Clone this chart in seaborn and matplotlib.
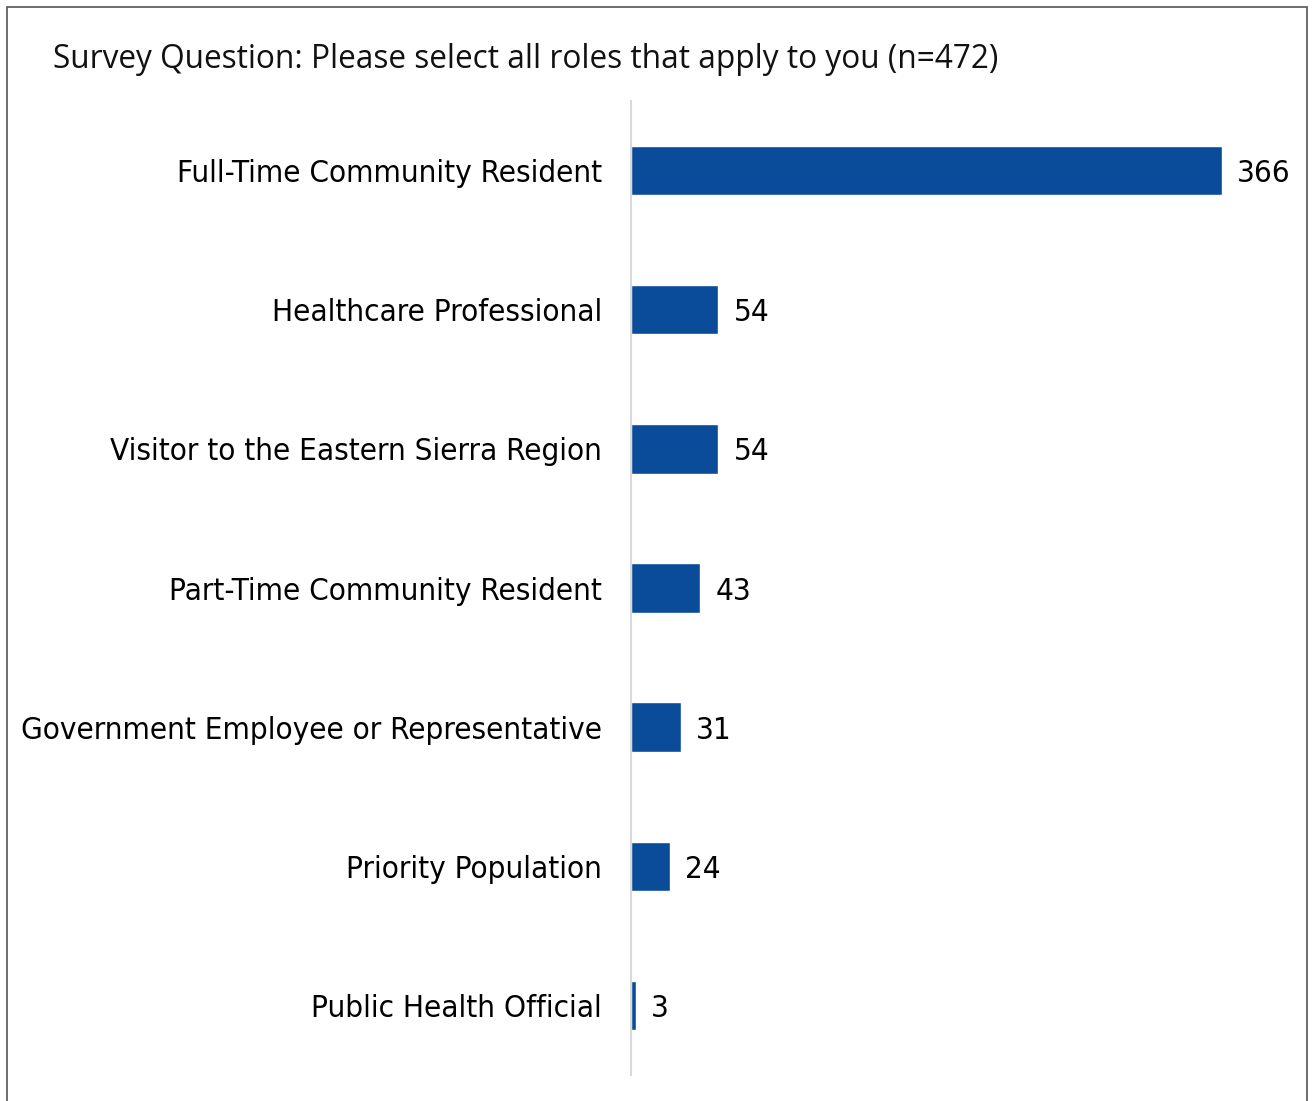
import matplotlib
matplotlib.use("Agg")
import matplotlib.pyplot as plt
import seaborn as sns
import pandas as pd
from matplotlib.patches import Rectangle

categories = [
    "Full-Time Community Resident",
    "Healthcare Professional",
    "Visitor to the Eastern Sierra Region",
    "Part-Time Community Resident",
    "Government Employee or Representative",
    "Priority Population",
    "Public Health Official",
]
counts = [366, 54, 54, 43, 31, 24, 3]
title = "Survey Question: Please select all roles that apply to you (n=472)"

df = pd.DataFrame({"role": categories, "count": counts})

sns.set_theme(style="white")
plt.rcParams["font.family"] = ["DejaVu Sans"]

W, H = 1315, 1101
fig = plt.figure(figsize=(W / 100, H / 100), dpi=100)
ax = fig.add_axes([631 / W, 1 - 1075 / H, (1300 - 631) / W, (1075 - 101) / H])

bar_color = "#0A4C9A"
sns.barplot(data=df, x="count", y="role", ax=ax, color=bar_color,
            width=0.355, saturation=1, orient="h")

ax.set_xlim(0, (1300 - 631) / (591 / 366))
ax.set_ylim(6.5, -0.5)
ax.set_xlabel("")
ax.set_ylabel("")
ax.set_xticks([])
for s in ["top", "right", "bottom"]:
    ax.spines[s].set_visible(False)
ax.spines["left"].set_color("#D9D9D9")
ax.spines["left"].set_linewidth(1.5)
ax.tick_params(axis="y", length=0, pad=21)
for lbl in ax.get_yticklabels():
    lbl.set_fontsize(22.5)
    lbl.set_fontstretch("condensed")
    lbl.set_color("#000000")

for cont in ax.containers:
    labels = ax.bar_label(cont, padding=11, fontsize=22.5, color="#000000")
    for t in labels:
        t.set_fontstretch("condensed")
        t.set_verticalalignment("center_baseline")

fig.text(53 / W, 1 - 60 / H, title, fontsize=22.75, ha="left", va="center",
         color="#111111", family=["Open Sans", "DejaVu Sans"])

# outer frame
fig.patches.append(Rectangle((7 / W, -0.05), 1300 / W, 1 - 7 / H + 0.05,
                             transform=fig.transFigure, fill=False,
                             edgecolor="#555555", linewidth=1.2, zorder=0))

fig.savefig("out.png", dpi=100, facecolor="white")
